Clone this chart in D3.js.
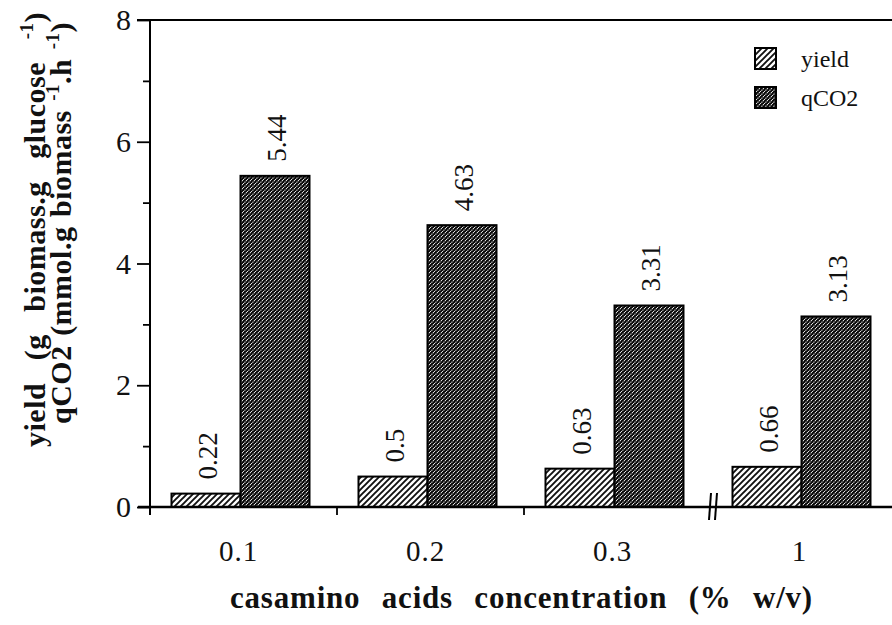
<!DOCTYPE html>
<html>
<head>
<meta charset="utf-8">
<script src="https://cdn.jsdelivr.net/npm/d3@7"></script>
<style>
  html, body { margin: 0; padding: 0; background: #fff; }
  svg { display: block; }
  svg text { font-family: "Liberation Serif", "Times New Roman", Times, "DejaVu Serif", serif; }
</style>
</head>
<body>
<svg id="chart" width="892" height="625" font-family="Liberation Serif, Times New Roman, serif"></svg>
<script>
// Casamino acids concentration (% w/v) and measured responses
const categories = ["0.1", "0.2", "0.3", "1"];
const yieldValues = [0.22, 0.5, 0.63, 0.66];
const qco2Values = [5.44, 4.63, 3.31, 3.13];
const seriesNames = ["yield", "qCO2"];
const yTicks = [0, 2, 4, 6, 8];
const yMinorTicks = [1, 3, 5, 7];

const SERIF = "Liberation Serif, Times New Roman, Times, serif";
const svg = d3.select("#chart");

const plot = { left: 150, top: 20, bottom: 507, right: 892 };

const x = d3.scaleBand().domain(categories).range([147, 895]).paddingInner(0).paddingOuter(0);
const xs = d3.scaleBand().domain(seriesNames).range([0, x.bandwidth()]).paddingInner(0).paddingOuter(0.355);
const y = d3.scaleLinear().domain([0, 8]).range([plot.bottom, plot.top]);

// hatch patterns
const defs = svg.append("defs");
const p1 = defs.append("pattern").attr("id", "hatchYield").attr("patternUnits", "userSpaceOnUse")
  .attr("width", 6).attr("height", 6);
p1.append("rect").attr("width", 6).attr("height", 6).attr("fill", "#fff");
p1.append("path").attr("d", "M0,6 L6,0 M-1.5,1.5 L1.5,-1.5 M4.5,7.5 L7.5,4.5")
  .attr("stroke", "#111").attr("stroke-width", 1.9);

const p2 = defs.append("pattern").attr("id", "hatchQ").attr("patternUnits", "userSpaceOnUse")
  .attr("width", 4).attr("height", 4);
p2.append("rect").attr("width", 4).attr("height", 4).attr("fill", "#050505");
p2.append("path").attr("d", "M0,4 L4,0 M-1,1 L1,-1 M3,5 L5,3")
  .attr("stroke", "#f2f2f2").attr("stroke-width", 1.1).attr("stroke-dasharray", "1.3,0.8");

const fills = { yield: "url(#hatchYield)", qCO2: "url(#hatchQ)" };

const rows = categories.map((c, i) => ({ cat: c, yield: yieldValues[i], qCO2: qco2Values[i] }));

// bars
const groups = svg.append("g").selectAll("g").data(rows).join("g")
  .attr("transform", d => `translate(${x(d.cat)},0)`);

groups.selectAll("rect").data(d => seriesNames.map(s => ({ s, v: d[s] }))).join("rect")
  .attr("x", d => xs(d.s))
  .attr("width", xs.bandwidth())
  .attr("y", d => y(d.v))
  .attr("height", d => y(0) - y(d.v))
  .attr("fill", d => fills[d.s])
  .attr("stroke", "#000")
  .attr("stroke-width", 2);

// value labels, rotated
groups.selectAll("text.val").data(d => seriesNames.map(s => ({ s, v: d[s] }))).join("text")
  .attr("class", "val")
  .attr("transform", d => `translate(${xs(d.s) + xs.bandwidth() / 2 + 2},${y(d.v) - 14}) rotate(-90)`)
  .attr("text-anchor", "start")
  .attr("dominant-baseline", "central")
  .attr("font-family", SERIF)
  .attr("font-size", 27)
  .attr("fill", "#111")
  .text(d => String(d.v));

// frame lines: left axis, top line, baseline
const axisG = svg.append("g").attr("stroke", "#000").attr("fill", "none");
axisG.append("line").attr("x1", plot.left).attr("x2", plot.left).attr("y1", plot.top - 1).attr("y2", plot.bottom + 8).attr("stroke-width", 2);
axisG.append("line").attr("x1", 137).attr("x2", plot.right).attr("y1", plot.top).attr("y2", plot.top).attr("stroke-width", 2);
axisG.append("line").attr("x1", 138).attr("x2", plot.right).attr("y1", plot.bottom).attr("y2", plot.bottom).attr("stroke-width", 2.4);

// y ticks
const yAxis = d3.axisLeft(y).tickValues(yTicks).tickSize(13).tickPadding(6).tickFormat(d3.format("d"));
const ya = svg.append("g").attr("transform", `translate(${plot.left},0)`).call(yAxis)
  .attr("font-family", SERIF);
ya.select(".domain").remove();
ya.selectAll(".tick line").attr("stroke", "#000").attr("stroke-width", 1.8);
ya.selectAll(".tick text").attr("font-size", 30).attr("fill", "#111");

const yMinor = d3.axisLeft(y).tickValues(yMinorTicks).tickSize(7).tickFormat("");
const ym = svg.append("g").attr("transform", `translate(${plot.left},0)`).call(yMinor);
ym.select(".domain").remove();
ym.selectAll(".tick line").attr("stroke", "#000").attr("stroke-width", 1.8);

// x category labels
svg.append("g").selectAll("text").data(categories).join("text")
  .attr("x", d => x(d) + x.bandwidth() / 2 - 2)
  .attr("y", 561)
  .attr("text-anchor", "middle")
  .attr("font-family", SERIF)
  .attr("font-size", 29)
  .attr("letter-spacing", 1)
  .attr("fill", "#111")
  .text(d => d);

// small downward ticks between groups (before the axis break)
const sepTicks = [categories[1], categories[2]].map(c => x(c));
svg.append("g").selectAll("line").data(sepTicks).join("line")
  .attr("x1", d => d + 3).attr("x2", d => d + 3)
  .attr("y1", plot.bottom).attr("y2", plot.bottom + 8)
  .attr("stroke", "#000").attr("stroke-width", 1.8);

// axis break marks
const bx = x(categories[3]) + 5;
svg.append("g").selectAll("line").data([-3, 3]).join("line")
  .attr("x1", d => bx + d - 1).attr("x2", d => bx + d + 1)
  .attr("y1", plot.bottom + 13).attr("y2", plot.bottom - 14)
  .attr("stroke", "#000").attr("stroke-width", 2);

// legend
const legend = svg.append("g");
const legY = [48, 87];
seriesNames.forEach((s, i) => {
  legend.append("rect").attr("x", 755).attr("y", legY[i]).attr("width", 21).attr("height", 21)
    .attr("fill", fills[s]).attr("stroke", "#000").attr("stroke-width", 2);
  legend.append("text").attr("x", 801).attr("y", legY[i] + 19)
    .attr("font-family", SERIF).attr("font-size", 24).attr("fill", "#111").text(s);
});

// stretch word gaps so a title spans the given length
function fitWords(sel, target) {
  const node = sel.node();
  const len = node.getComputedTextLength();
  const spaces = (node.textContent.match(/ /g) || []).length;
  if (spaces > 0 && len < target) sel.attr("word-spacing", (target - len) / spaces);
}

// axis titles
const xt = svg.append("text")
  .attr("x", 230).attr("y", 608)
  .attr("font-family", SERIF)
  .attr("font-size", 31).attr("font-weight", "bold").attr("letter-spacing", 0.8).attr("fill", "#111")
  .text("casamino acids concentration (% w/v)");
fitWords(xt, 583);

const t1 = svg.append("text")
  .attr("transform", "translate(45,447) rotate(-90)")
  .attr("font-family", SERIF)
  .attr("font-size", 30).attr("font-weight", "bold").attr("letter-spacing", 0.5).attr("fill", "#111");
t1.append("tspan").text("yield (g biomass.g glucose ");
t1.append("tspan").attr("dy", -12).attr("font-size", 19).text("-1");
t1.append("tspan").attr("dy", 12).text(")");
fitWords(t1, 435);

const t2 = svg.append("text")
  .attr("transform", "translate(71,424) rotate(-90)")
  .attr("font-family", SERIF)
  .attr("font-size", 30).attr("font-weight", "bold").attr("letter-spacing", 0.5).attr("fill", "#111");
t2.append("tspan").text("qCO2 (mmol.g biomass ");
t2.append("tspan").attr("dy", -12).attr("font-size", 19).text("-1");
t2.append("tspan").attr("dy", 12).text(".h ");
t2.append("tspan").attr("dy", -12).attr("font-size", 19).text("-1");
t2.append("tspan").attr("dy", 12).text(")");
fitWords(t2, 402);
</script>
</body>
</html>
